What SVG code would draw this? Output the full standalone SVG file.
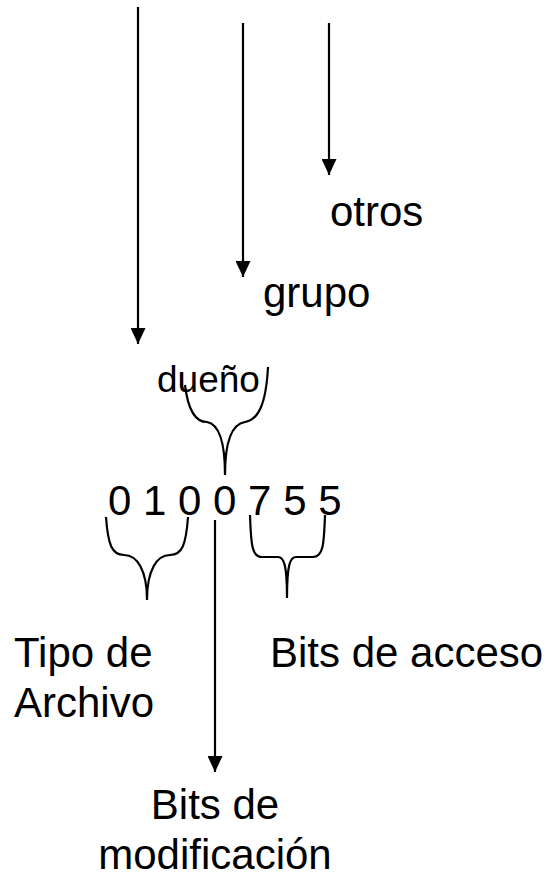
<svg xmlns="http://www.w3.org/2000/svg" width="550" height="877" viewBox="0 0 550 877">
<defs>
<marker id="ah" markerWidth="16" markerHeight="15" refX="16" refY="7.5" orient="auto" markerUnits="userSpaceOnUse">
<path d="M0,0 L16,7.5 L0,15 Z" fill="#000"/>
</marker>
<style>
text{font-family:"Liberation Sans",Arial,sans-serif;fill:#000;font-size:42px}
.sm{font-size:37px}
.ln{stroke:#000;stroke-width:2.2;fill:none}
.br{stroke:#000;stroke-width:2.2;fill:none}
</style>
</defs>
<rect width="550" height="877" fill="#fff"/>
<g id="connectors">
<line class="ln" x1="138" y1="7" x2="138" y2="344" marker-end="url(#ah)"/>
<line class="ln" x1="243" y1="23" x2="243" y2="277" marker-end="url(#ah)"/>
<line class="ln" x1="329" y1="23" x2="329" y2="175" marker-end="url(#ah)"/>
<line class="ln" x1="215" y1="520" x2="215" y2="772" marker-end="url(#ah)"/>
<path class="br" d="M185,385 C188,410 195,422 207,422 C218,424 225,440 225,475 M268,367 C266,405 258,420 245,422 C232,424 225,440 225,475"/>
<path class="br" d="M106,517 C108,545 112,555 124,555 C137,555 147,570 147,600 M188,517 C186,545 182,555 170,555 C157,555 147,570 147,600"/>
<path class="br" d="M250,515 C251,545 252,557 262,557 L278,557 C284,557 287,565 287,598 M325,515 C324,545 323,557 313,557 L296,557 C290,557 287,565 287,598"/>
</g>
<g id="otros"><text x="330" y="226">otros</text></g>
<g id="grupo"><text x="263" y="307">grupo</text></g>
<g id="dueno"><text class="sm" x="157" y="392">dueño</text></g>
<g id="bits"><text x="108" y="515">0 1 0 0 7 5 5</text></g>
<g id="tipo"><text x="14" y="667">Tipo de</text><text x="14" y="717">Archivo</text></g>
<g id="acceso"><text x="270" y="667">Bits de acceso</text></g>
<g id="modif"><text text-anchor="middle" x="215" y="819">Bits de</text><text text-anchor="middle" x="215" y="869">modificación</text></g>
</svg>
